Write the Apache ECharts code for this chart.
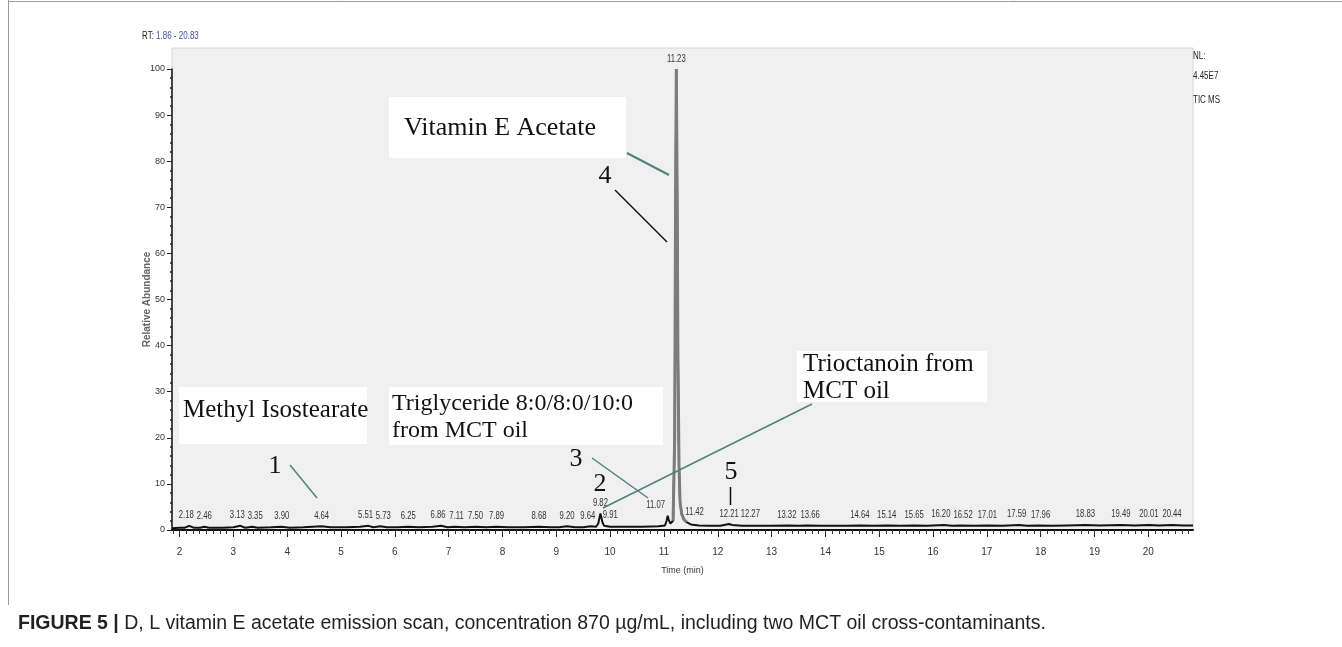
<!DOCTYPE html>
<html>
<head>
<meta charset="utf-8">
<script src="https://cdn.jsdelivr.net/npm/echarts@6/dist/echarts.min.js"></script>
<style>
  html, body { margin: 0; padding: 0; background: #fff; }
  #chart { width: 1342px; height: 647px; }
</style>
</head>
<body>
<div id="chart"></div>
<script>
// chromatogram trace (time in min, relative abundance %)
const traceTime = [
  1.86, 2.00, 2.10, 2.18, 2.26, 2.38, 2.46, 2.55, 2.80, 3.00, 3.13, 3.22, 3.35, 3.45, 3.70, 3.90,
  4.05, 4.30, 4.64, 4.80, 5.10, 5.35, 5.51, 5.60, 5.73, 5.85, 6.05, 6.25, 6.45, 6.70, 6.86, 6.98,
  7.11, 7.30, 7.50, 7.70, 7.89, 8.10, 8.40, 8.68, 8.90, 9.05, 9.20, 9.35, 9.50, 9.64, 9.74, 9.78,
  9.82, 9.86, 9.89, 9.91, 10.00, 10.30, 10.60, 10.90, 11.02, 11.05, 11.07, 11.09, 11.12, 11.17,
  11.20, 11.215, 11.23, 11.245, 11.26, 11.28, 11.30, 11.33, 11.37, 11.42, 11.50, 11.65, 11.85, 12.05,
  12.21, 12.27, 12.45, 12.70, 13.00, 13.32, 13.50, 13.66, 13.90, 14.20, 14.40, 14.64, 14.90, 15.14,
  15.40, 15.65, 15.90, 16.20, 16.35, 16.52, 16.75, 17.01, 17.30, 17.59, 17.75, 17.96, 18.20, 18.50,
  18.83, 19.10, 19.49, 19.75, 20.01, 20.20, 20.44, 20.65, 20.83
];
const traceAbund = [
  0.4, 0.5, 0.5, 0.9, 0.5, 0.5, 0.7, 0.5, 0.5, 0.6, 0.9, 0.5, 0.7, 0.5, 0.6, 0.7,
  0.5, 0.6, 0.8, 0.6, 0.6, 0.7, 0.9, 0.6, 0.8, 0.6, 0.6, 0.7, 0.6, 0.7, 0.9, 0.6,
  0.7, 0.6, 0.7, 0.6, 0.7, 0.6, 0.6, 0.7, 0.6, 0.6, 0.8, 0.6, 0.6, 0.8, 0.7, 1.4,
  3.6, 1.6, 0.9, 1.0, 0.7, 0.7, 0.7, 0.8, 1.0, 2.0, 3.1, 2.2, 1.4, 2.0,
  20, 68, 100, 74, 38, 14, 6, 3.5, 2.3, 1.7, 1.2, 1.0, 0.9, 0.9,
  1.3, 1.1, 0.9, 0.9, 0.9, 1.0, 0.9, 1.0, 0.9, 0.9, 0.9, 1.0, 0.9, 1.0,
  0.9, 1.0, 0.9, 1.1, 0.9, 1.0, 0.9, 1.0, 0.9, 1.1, 0.9, 1.0, 0.9, 1.0,
  1.1, 1.0, 1.1, 1.0, 1.1, 1.0, 1.1, 1.0, 1.0
];
// retention times printed above the peaks
const peakLabels = [
  '2.18', '2.46', '3.13', '3.35', '3.90', '4.64', '5.51', '5.73', '6.25', '6.86', '7.11', '7.50',
  '7.89', '8.68', '9.20', '9.64', '9.82', '9.91', '11.07', '11.23', '11.42', '12.21', '12.27',
  '13.32', '13.66', '14.64', '15.14', '15.65', '16.20', '16.52', '17.01', '17.59', '17.96',
  '18.83', '19.49', '20.01', '20.44'
];
const xTicks = [2, 3, 4, 5, 6, 7, 8, 9, 10, 11, 12, 13, 14, 15, 16, 17, 18, 19, 20];
const timeRange = [1.86, 20.83];
const mainPeak = [11.17, 11.42];

const sans = '"Liberation Sans", Arial, sans-serif';
const serif = '"Liberation Serif", "DejaVu Serif", serif';
const teal = '#4f827d';

const trace = traceTime.map((t, i) => [t, traceAbund[i]]);
const mainTrace = trace.filter(p => p[0] >= mainPeak[0] && p[0] <= mainPeak[1]);
// labels nudged sideways where the instrument moved them apart
const labelShift = {
  '2.18': [-3, 0], '3.13': [-3, 0], '3.35': [3, 0], '5.51': [-3, 0], '5.73': [3, 0],
  '6.86': [-3, 0], '7.11': [2, 0], '9.64': [-3, 0], '9.91': [5, 0], '11.07': [-12, 0],
  '11.42': [8, 0], '12.27': [18, 0], '13.32': [-2, 0], '13.66': [3, 0],
  '16.20': [-3, 0], '16.52': [2, 0], '17.59': [-2, 0], '17.96': [2, 0]
};
const labelPoints = peakLabels.map(s => {
  const i = traceTime.indexOf(Number(s));
  return [traceTime[i], traceAbund[i]];
});
const minorTicks = [];
for (let v = 1.875; v <= timeRange[1]; v += 0.125) minorTicks.push(Number(v.toFixed(3)));

const chart = echarts.init(document.getElementById('chart'));

function box(x, y, w, h) {
  return { type: 'rect', z: 50, shape: { x, y, width: w, height: h }, style: { fill: '#ffffff' } };
}
function txt(x, y, text, size, align) {
  return { type: 'text', z: 60, x, y, style: { text, font: `${size}px ${serif}`, fill: '#111', verticalAlign: 'middle', align: align || 'left' } };
}
function small(x, y, text, rich) {
  return { type: 'text', z: 60, x, y, scaleX: 0.8, style: { text, font: `10px ${sans}`, fill: rich ? '#4a4aa8' : '#222', verticalAlign: 'middle',
    rich: rich ? { k: { fill: '#222', font: `10px ${sans}` } } : undefined } };
}
function seg(x1, y1, x2, y2, color, w) {
  return { type: 'line', z: 60, shape: { x1, y1, x2, y2 }, style: { stroke: color, lineWidth: w || 1.5 } };
}

chart.setOption({
  animation: false,
  grid: { left: 172, right: 149, top: 69, bottom: 117 },
  xAxis: [{
    type: 'value', min: timeRange[0], max: timeRange[1],
    name: 'Time (min)', nameLocation: 'middle', nameGap: 36,
    nameTextStyle: { fontFamily: sans, fontSize: 9, color: '#333' },
    axisLine: { onZero: false, lineStyle: { color: '#111', width: 2 } },
    axisTick: { customValues: xTicks, length: 7, lineStyle: { color: '#222' } },
    axisLabel: { customValues: xTicks, margin: 17, fontFamily: sans, fontSize: 10, color: '#333' },
    splitLine: { show: false }
  }, {
    type: 'value', min: timeRange[0], max: timeRange[1], position: 'bottom',
    axisLine: { show: false },
    axisTick: { customValues: minorTicks, length: 4, lineStyle: { color: '#333' } },
    axisLabel: { show: false },
    splitLine: { show: false }
  }],
  yAxis: {
    type: 'value', min: 0, max: 100, interval: 10,
    name: 'Relative Abundance', nameLocation: 'middle', nameGap: 20, nameMoveOverlap: false,
    nameTextStyle: { fontFamily: sans, fontSize: 10, fontWeight: 'bold', color: '#666' },
    axisLine: { show: true, lineStyle: { color: '#111', width: 1.5 } },
    axisTick: { show: true, length: 5, lineStyle: { color: '#222' } },
    minorTick: { show: true, splitNumber: 5, length: 2, lineStyle: { color: '#222', width: 1.5 } },
    axisLabel: { margin: 7, fontFamily: sans, fontSize: 9, color: '#333' },
    splitLine: { show: false }
  },
  series: [{
    type: 'line', data: trace, showSymbol: false, z: 3,
    lineStyle: { color: '#111', width: 2 }
  }, {
    type: 'line', data: mainTrace, showSymbol: false, z: 4,
    lineStyle: { color: '#7c7c7c', width: 3 }
  }, {
    type: 'custom', data: labelPoints, z: 5, silent: true, clip: false,
    renderItem: (params, api) => {
      const name = peakLabels[params.dataIndex];
      const p = api.coord([api.value(0), api.value(1)]);
      const off = labelShift[name] || [0, 0];
      return {
        type: 'text', x: p[0] + off[0], y: p[1] - 5 + off[1], scaleX: 0.7,
        style: { text: name, align: 'center', verticalAlign: 'bottom', font: `11px ${sans}`, fill: '#333' }
      };
    }
  }],
  graphic: [
    { type: 'rect', z: -10, shape: { x: 172, y: 48, width: 1021, height: 482 },
      style: { fill: '#f0f0f0', stroke: '#d6d6d6', lineWidth: 1 } },
    seg(8.5, 0, 8.5, 605, '#9a9a9a', 1),
    seg(8, 1.5, 1342, 1.5, '#9a9a9a', 1),
    small(142, 36, '{k|RT:} 1.86 - 20.83', true),
    small(1193, 56, 'NL:'),
    small(1193, 76, '4.45E7'),
    small(1193, 100, 'TIC MS'),

    box(389, 97, 237, 61),
    txt(404, 128, 'Vitamin E Acetate', 26),
    seg(627, 153, 669, 175, teal, 2),
    txt(605, 176, '4', 26, 'center'),
    seg(615, 190, 667, 242, '#111', 1.5),

    box(179, 387, 188, 57),
    txt(183, 410, 'Methyl Isostearate', 25),
    txt(275, 466, '1', 26, 'center'),
    seg(290, 465, 317, 498, teal, 1.5),

    box(389, 387, 274, 58),
    txt(392, 404, 'Triglyceride 8:0/8:0/10:0', 24),
    txt(392, 431, 'from MCT oil', 24),
    txt(576, 459, '3', 26, 'center'),
    txt(600, 484, '2', 26, 'center'),
    seg(592, 458, 648, 498, teal, 1.5),
    seg(603, 508, 812, 404, teal, 1.5),

    box(797, 351, 190, 51),
    txt(803, 364, 'Trioctanoin from', 25),
    txt(803, 391, 'MCT oil', 25),

    txt(731, 472, '5', 26, 'center'),
    seg(730.5, 487, 730.5, 505, '#111', 1.5),

    { type: 'text', x: 18, y: 624, style: {
      text: '{b|FIGURE 5 |} D, L vitamin E acetate emission scan, concentration 870 µg/mL, including two MCT oil cross-contaminants.',
      font: `19.5px ${sans}`, fill: '#231f20', verticalAlign: 'middle',
      rich: { b: { font: `bold 19.5px ${sans}`, fill: '#231f20' } } } }
  ]
});
</script>
</body>
</html>
